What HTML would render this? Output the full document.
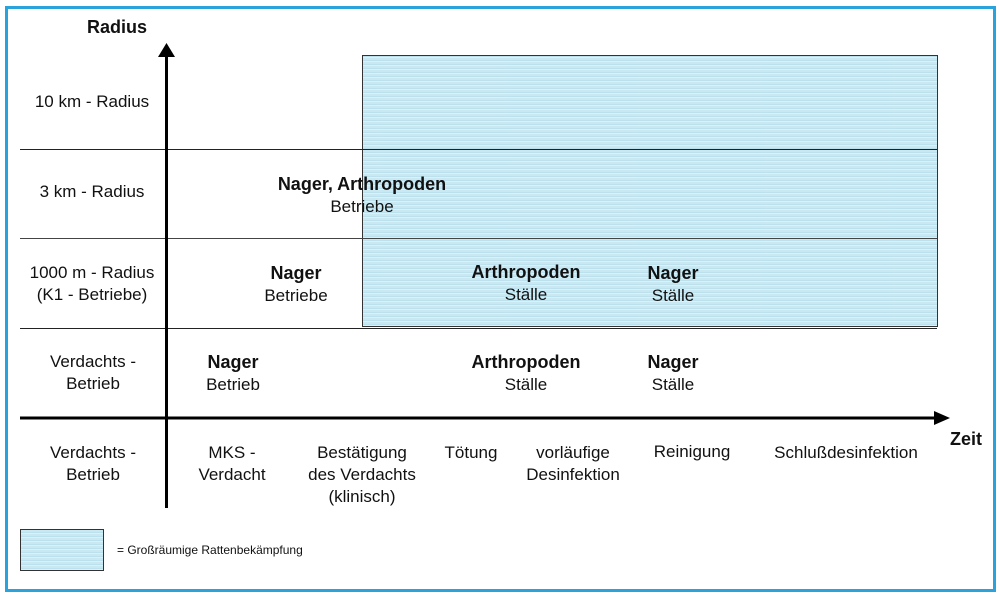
<!DOCTYPE html>
<html><head><meta charset="utf-8"><style>
body{margin:0;background:#fff;}
#c{position:relative;width:1000px;height:600px;overflow:hidden;font-family:"Liberation Sans",Arial,sans-serif;font-size:17px;color:#111;}
.t{position:absolute;width:240px;text-align:center;line-height:22px;white-space:nowrap;}
.b,b{font-weight:bold;font-size:18px;}
.tex{background:#c9e8f2;background-image:repeating-linear-gradient(0deg,rgba(255,255,255,.35) 0 1px,rgba(160,210,228,.3) 1px 2px,rgba(255,255,255,0) 2px 4px);}
</style></head><body><div id="c">
<div style="position:absolute;left:5px;top:6px;width:985px;height:580px;border:3px solid #2aa3dc;"></div>
<div class="tex" style="position:absolute;left:362px;top:55px;width:574px;height:270px;border:1px solid #333;"></div>
<svg width="1000" height="600" style="position:absolute;left:0;top:0">
<line x1="20" y1="149.5" x2="937" y2="149.5" stroke="#222" stroke-width="1"/>
<line x1="20" y1="238.5" x2="937" y2="238.5" stroke="#444" stroke-width="1"/>
<line x1="20" y1="328.5" x2="937" y2="328.5" stroke="#222" stroke-width="1"/>
<line x1="20" y1="418" x2="936" y2="418" stroke="#000" stroke-width="3"/>
<polygon points="950,418 934,411 934,425" fill="#000"/>
<line x1="166.5" y1="508" x2="166.5" y2="55" stroke="#000" stroke-width="3"/>
<polygon points="166.5,43 158,57 175,57" fill="#000"/>
</svg>
<div class="tex" style="position:absolute;left:20px;top:529px;width:82px;height:40px;border:1px solid #333;"></div>
<div style="position:absolute;left:117px;top:543px;font-size:12px;">= Großräumige Rattenbekämpfung</div>

<div class="t b" style="left:-3px;top:16px;">Radius</div>
<div class="t" style="left:-28px;top:91px;">10 km - Radius</div>
<div class="t" style="left:-28px;top:181px;">3 km - Radius</div>
<div class="t" style="left:-28px;top:262px;">1000 m - Radius<br>(K1 - Betriebe)</div>
<div class="t" style="left:-27px;top:351px;">Verdachts -<br>Betrieb</div>
<div class="t" style="left:-27px;top:442px;">Verdachts -<br>Betrieb</div>
<div class="t" style="left:112px;top:442px;">MKS -<br>Verdacht</div>
<div class="t" style="left:242px;top:442px;">Bestätigung<br>des Verdachts<br>(klinisch)</div>
<div class="t" style="left:351px;top:442px;">Tötung</div>
<div class="t" style="left:453px;top:442px;">vorläufige<br>Desinfektion</div>
<div class="t" style="left:572px;top:441px;">Reinigung</div>
<div class="t" style="left:726px;top:442px;">Schlußdesinfektion</div>
<div class="t b" style="left:846px;top:428px;">Zeit</div>

<div class="t" style="left:242px;top:173px;"><b>Nager, Arthropoden</b><br>Betriebe</div>
<div class="t" style="left:176px;top:262px;"><b>Nager</b><br>Betriebe</div>
<div class="t" style="left:406px;top:261px;"><b>Arthropoden</b><br>Ställe</div>
<div class="t" style="left:553px;top:262px;"><b>Nager</b><br>Ställe</div>
<div class="t" style="left:113px;top:351px;"><b>Nager</b><br>Betrieb</div>
<div class="t" style="left:406px;top:351px;"><b>Arthropoden</b><br>Ställe</div>
<div class="t" style="left:553px;top:351px;"><b>Nager</b><br>Ställe</div>
</div></body></html>
